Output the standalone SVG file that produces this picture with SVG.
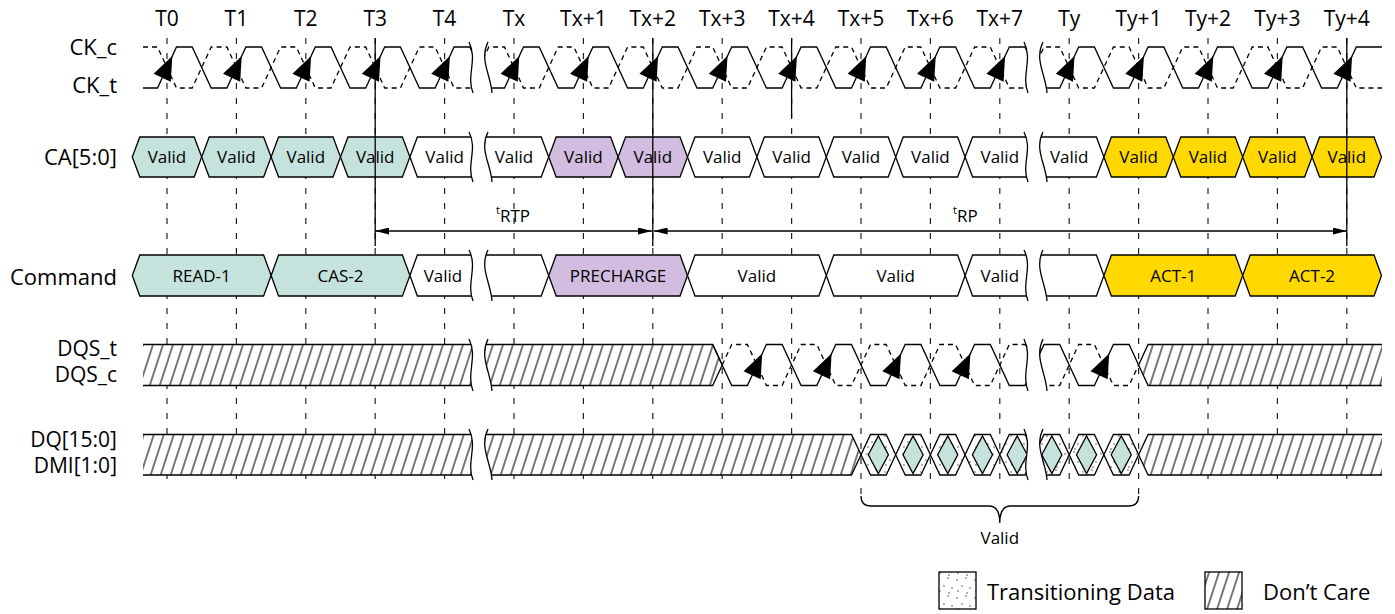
<svg xmlns="http://www.w3.org/2000/svg" width="1395" height="614" viewBox="0 0 1395 614">
<style>
.ln{stroke:#000;stroke-width:1.3;fill:none;stroke-linejoin:miter}
.dsh{stroke:#000;stroke-width:1.3;fill:none;stroke-dasharray:5 4}
.tick{stroke:#222;stroke-width:1.2;fill:none;stroke-dasharray:6 9}
.cell{stroke:#000;stroke-width:1.3}
.teal{fill:#c5e3dc}.purp{fill:#d2bde1}.yel{fill:#ffd800}.wht{fill:#fff}
.mask{fill:#fff;stroke:none}
.hat{fill:url(#hatch);stroke:none}
.t{font-family:"Open Sans","Noto Sans","DejaVu Sans",sans-serif;fill:#000}
.lab{font-size:22px;text-anchor:end}
.lab2{font-size:21px;text-anchor:end}
.tk{font-size:21px;text-anchor:middle}
.cv{font-size:17px;text-anchor:middle}
.ah{fill:#000}
</style>
<defs>
<pattern id="hatch" patternUnits="userSpaceOnUse" width="10" height="10" patternTransform="skewX(-18)">
<rect width="10" height="10" fill="#fff"/>
<line x1="5" y1="-1" x2="5" y2="11" stroke="#000" stroke-width="1.1"/>
</pattern>
<pattern id="dots" patternUnits="userSpaceOnUse" width="18" height="18">
<rect width="18" height="18" fill="#fff"/>
<circle cx="3" cy="4" r="1" fill="#999"/><circle cx="12" cy="2" r="1" fill="#999"/>
<circle cx="8" cy="10" r="1" fill="#999"/><circle cx="16" cy="12" r="1" fill="#999"/>
<circle cx="4" cy="15" r="1" fill="#999"/><circle cx="13" cy="17" r="1" fill="#999"/>
</pattern>
<path id="ah" d="M5.3,56 L3.8,81.8 L-13.4,73.8 Z"/>
<marker id="arr" viewBox="0 0 14 7" refX="14" refY="3.5" markerWidth="14" markerHeight="7" markerUnits="userSpaceOnUse" orient="auto-start-reverse">
<path d="M0,0 L14,3.5 L0,7 Z" fill="#000"/>
</marker>
</defs>
<rect width="1395" height="614" fill="#fff"/>

<g id="tick-labels" class="t tk">
<text x="167" y="26">T0</text><text x="236.4" y="26">T1</text><text x="305.8" y="26">T2</text><text x="375.2" y="26">T3</text><text x="444.6" y="26">T4</text>
<text x="514" y="26">Tx</text><text x="583.4" y="26">Tx+1</text><text x="652.8" y="26">Tx+2</text><text x="722.2" y="26">Tx+3</text><text x="791.6" y="26">Tx+4</text>
<text x="861" y="26">Tx+5</text><text x="930.4" y="26">Tx+6</text><text x="999.8" y="26">Tx+7</text><text x="1069.2" y="26">Ty</text><text x="1138.6" y="26">Ty+1</text>
<text x="1208" y="26">Ty+2</text><text x="1277.4" y="26">Ty+3</text><text x="1346.8" y="26">Ty+4</text>
</g>

<g id="row-labels" class="t">
<text class="lab" x="117" y="55">CK_c</text><text class="lab" x="117" y="93">CK_t</text>
<text class="lab" x="117" y="165">CA[5:0]</text><text class="lab" x="117" y="285">Command</text>
<text class="lab2" x="117" y="356">DQS_t</text><text class="lab2" x="117" y="382">DQS_c</text>
<text class="lab2" x="117" y="447">DQ[15:0]</text><text class="lab2" x="117" y="473">DMI[1:0]</text>
</g>

<g id="ticks" class="tick">
<path d="M167,38V488M236.4,38V488M305.8,38V488M375.2,38V488M444.6,38V488M514,38V488M583.4,38V488M652.8,38V488M722.2,38V488M791.6,38V488M861,38V496M930.4,38V488M999.8,38V488M1069.2,38V488M1138.6,38V496M1208,38V488M1277.4,38V488M1346.8,38V488"/>
</g>

<g id="clock">
<path class="ln" d="M143,88 H157.5 L176.5,47 H192.2 L211.2,88 H226.9 L245.9,47 H261.6 L280.6,88 H296.3 L315.3,47 H331 L350,88 H365.7 L384.7,47 H400.4 L419.4,88 H435.1 L454.1,47 H469.8 L488.8,88 H504.5 L523.5,47 H539.2 L558.2,88 H573.9 L592.9,47 H608.6 L627.6,88 H643.3 L662.3,47 H678 L697,88 H712.7 L731.7,47 H747.4 L766.4,88 H782.1 L801.1,47 H816.8 L835.8,88 H851.5 L870.5,47 H886.2 L905.2,88 H920.9 L939.9,47 H955.6 L974.6,88 H990.3 L1009.3,47 H1025 L1044,88 H1059.7 L1078.7,47 H1094.4 L1113.4,88 H1129.1 L1148.1,47 H1163.8 L1182.8,88 H1198.5 L1217.5,47 H1233.2 L1252.2,88 H1267.9 L1286.9,47 H1302.6 L1321.6,88 H1337.3 L1356.3,47 H1382"/>
<path class="dsh" d="M143,47 H157.5 L176.5,88 H192.2 L211.2,47 H226.9 L245.9,88 H261.6 L280.6,47 H296.3 L315.3,88 H331 L350,47 H365.7 L384.7,88 H400.4 L419.4,47 H435.1 L454.1,88 H469.8 L488.8,47 H504.5 L523.5,88 H539.2 L558.2,47 H573.9 L592.9,88 H608.6 L627.6,47 H643.3 L662.3,88 H678 L697,47 H712.7 L731.7,88 H747.4 L766.4,47 H782.1 L801.1,88 H816.8 L835.8,47 H851.5 L870.5,88 H886.2 L905.2,47 H920.9 L939.9,88 H955.6 L974.6,47 H990.3 L1009.3,88 H1025 L1044,47 H1059.7 L1078.7,88 H1094.4 L1113.4,47 H1129.1 L1148.1,88 H1163.8 L1182.8,47 H1198.5 L1217.5,88 H1233.2 L1252.2,47 H1267.9 L1286.9,88 H1302.6 L1321.6,47 H1337.3 L1356.3,88 H1382"/>
<g class="ah">
<use href="#ah" x="167"/><use href="#ah" x="236.4"/><use href="#ah" x="305.8"/><use href="#ah" x="375.2"/><use href="#ah" x="444.6"/>
<use href="#ah" x="514"/><use href="#ah" x="583.4"/><use href="#ah" x="652.8"/><use href="#ah" x="722.2"/><use href="#ah" x="791.6"/>
<use href="#ah" x="861"/><use href="#ah" x="930.4"/><use href="#ah" x="999.8"/><use href="#ah" x="1069.2"/><use href="#ah" x="1138.6"/>
<use href="#ah" x="1208"/><use href="#ah" x="1277.4"/><use href="#ah" x="1346.8"/>
</g>
</g>

<g id="ca-row">
<polygon class="cell teal" points="132.3,157 139.8,137 194.2,137 201.7,157 194.2,177 139.8,177"/>
<polygon class="cell teal" points="201.7,157 209.2,137 263.6,137 271.1,157 263.6,177 209.2,177"/>
<polygon class="cell teal" points="271.1,157 278.6,137 333,137 340.5,157 333,177 278.6,177"/>
<polygon class="cell teal" points="340.5,157 348,137 402.4,137 409.9,157 402.4,177 348,177"/>
<polygon class="cell wht" points="409.9,157 417.4,137 480,137 480,177 417.4,177"/>
<polygon class="cell wht" points="480,137 541.2,137 548.7,157 541.2,177 480,177"/>
<polygon class="cell purp" points="548.7,157 556.2,137 610.6,137 618.1,157 610.6,177 556.2,177"/>
<polygon class="cell purp" points="618.1,157 625.6,137 680,137 687.5,157 680,177 625.6,177"/>
<polygon class="cell wht" points="687.5,157 695,137 749.4,137 756.9,157 749.4,177 695,177"/>
<polygon class="cell wht" points="756.9,157 764.4,137 818.8,137 826.3,157 818.8,177 764.4,177"/>
<polygon class="cell wht" points="826.3,157 833.8,137 888.2,137 895.7,157 888.2,177 833.8,177"/>
<polygon class="cell wht" points="895.7,157 903.2,137 957.6,137 965.1,157 957.6,177 903.2,177"/>
<polygon class="cell wht" points="965.1,157 972.6,137 1035,137 1035,177 972.6,177"/>
<polygon class="cell wht" points="1035,137 1096.4,137 1103.9,157 1096.4,177 1035,177"/>
<polygon class="cell yel" points="1103.9,157 1111.4,137 1165.8,137 1173.3,157 1165.8,177 1111.4,177"/>
<polygon class="cell yel" points="1173.3,157 1180.8,137 1235.2,137 1242.7,157 1235.2,177 1180.8,177"/>
<polygon class="cell yel" points="1242.7,157 1250.2,137 1304.6,137 1312.1,157 1304.6,177 1250.2,177"/>
<polygon class="cell yel" points="1312.1,157 1319.6,137 1374,137 1381.5,157 1374,177 1319.6,177"/>
</g>

<g id="markers-vertical">
<path class="ln" d="M375.2,38V246M652.8,38V246M791.6,38V118M1346.8,38V246"/>
</g>

<g id="ca-text" class="t cv">
<text x="167" y="163">Valid</text><text x="236.4" y="163">Valid</text><text x="305.8" y="163">Valid</text><text x="375.2" y="163">Valid</text><text x="444.6" y="163">Valid</text>
<text x="514" y="163">Valid</text><text x="583.4" y="163">Valid</text><text x="652.8" y="163">Valid</text><text x="722.2" y="163">Valid</text><text x="791.6" y="163">Valid</text>
<text x="861" y="163">Valid</text><text x="930.4" y="163">Valid</text><text x="999.8" y="163">Valid</text><text x="1069.2" y="163">Valid</text><text x="1138.6" y="163">Valid</text>
<text x="1208" y="163">Valid</text><text x="1277.4" y="163">Valid</text><text x="1346.8" y="163">Valid</text>
</g>

<g id="timing-tRTP">
<line class="ln" x1="375.2" y1="231" x2="652" y2="231" marker-start="url(#arr)" marker-end="url(#arr)"/>
<text class="t" x="496" y="222" font-size="17"><tspan font-size="11" dy="-8">t</tspan><tspan dy="8">RTP</tspan></text>
</g>
<g id="timing-tRP">
<line class="ln" x1="653.6" y1="231" x2="1346.8" y2="231" marker-start="url(#arr)" marker-end="url(#arr)"/>
<text class="t" x="953" y="222" font-size="17"><tspan font-size="11" dy="-8">t</tspan><tspan dy="8">RP</tspan></text>
</g>

<g id="command-row">
<polygon class="cell teal" points="132.3,275.5 139.8,255 263.6,255 271.1,275.5 263.6,296 139.8,296"/>
<polygon class="cell teal" points="271.1,275.5 278.6,255 402.4,255 409.9,275.5 402.4,296 278.6,296"/>
<polygon class="cell wht" points="409.9,275.5 417.4,255 480,255 480,296 417.4,296"/>
<polygon class="cell wht" points="480,255 541.2,255 548.7,275.5 541.2,296 480,296"/>
<polygon class="cell purp" points="548.7,275.5 556.2,255 680,255 687.5,275.5 680,296 556.2,296"/>
<polygon class="cell wht" points="687.5,275.5 695,255 818.8,255 826.3,275.5 818.8,296 695,296"/>
<polygon class="cell wht" points="826.3,275.5 833.8,255 957.6,255 965.1,275.5 957.6,296 833.8,296"/>
<polygon class="cell wht" points="965.1,275.5 972.6,255 1035,255 1035,296 972.6,296"/>
<polygon class="cell wht" points="1035,255 1096.4,255 1103.9,275.5 1096.4,296 1035,296"/>
<polygon class="cell yel" points="1103.9,275.5 1111.4,255 1235.2,255 1242.7,275.5 1235.2,296 1111.4,296"/>
<polygon class="cell yel" points="1242.7,275.5 1250.2,255 1374,255 1381.5,275.5 1374,296 1250.2,296"/>
</g>

<g id="dqs-row">
<path class="hat" d="M143,344.5 H712.7 L722.2,365 L712.7,385.5 H143 Z"/>
<path class="ln" d="M143,344.5 H712.7 L722.2,365 L712.7,385.5 H143"/>
<path class="hat" d="M1382,344.5 H1148.1 L1138.6,365 L1148.1,385.5 H1382 Z"/>
<path class="ln" d="M1382,344.5 H1148.1 L1138.6,365 L1148.1,385.5 H1382"/>
<path class="ln" d="M712.7,344.5 L731.7,385.5 H747.4 L766.4,344.5 H782.1 L801.1,385.5 H816.8 L835.8,344.5 H851.5 L870.5,385.5 H886.2 L905.2,344.5 H920.9 L939.9,385.5 H955.6 L974.6,344.5 H990.3 L1009.3,385.5 H1025 L1044,344.5 H1059.7 L1078.7,385.5 H1094.4 L1113.4,344.5 H1129.1 L1138.6,365"/>
<path class="dsh" d="M722.2,365 L731.7,344.5 H747.4 L766.4,385.5 H782.1 L801.1,344.5 H816.8 L835.8,385.5 H851.5 L870.5,344.5 H886.2 L905.2,385.5 H920.9 L939.9,344.5 H955.6 L974.6,385.5 H990.3 L1009.3,344.5 H1025 L1044,385.5 H1059.7 L1078.7,344.5 H1094.4 L1113.4,385.5 H1129.1 L1138.6,365"/>
<g class="ah">
<use href="#ah" x="756.9" y="297.5"/><use href="#ah" x="826.3" y="297.5"/><use href="#ah" x="895.7" y="297.5"/><use href="#ah" x="965.1" y="297.5"/><use href="#ah" x="1103.9" y="297.5"/>
</g>
</g>

<g id="dq-row">
<path class="hat" d="M143,434.5 H851.5 L861,454.75 L851.5,475 H143 Z"/>
<path class="ln" d="M143,434.5 H851.5 L861,454.75 L851.5,475 H143"/>
<path class="hat" d="M1382,434.5 H1148.1 L1138.6,454.75 L1148.1,475 H1382 Z"/>
<path class="ln" d="M1382,434.5 H1148.1 L1138.6,454.75 L1148.1,475 H1382"/>
<g class="cell" fill="url(#dots)">
<polygon points="861,454.75 870.5,434.5 886.2,434.5 895.7,454.75 886.2,475 870.5,475"/>
<polygon points="895.7,454.75 905.2,434.5 920.9,434.5 930.4,454.75 920.9,475 905.2,475"/>
<polygon points="930.4,454.75 939.9,434.5 955.6,434.5 965.1,454.75 955.6,475 939.9,475"/>
<polygon points="965.1,454.75 974.6,434.5 990.3,434.5 999.8,454.75 990.3,475 974.6,475"/>
<polygon points="999.8,454.75 1009.3,434.5 1025,434.5 1034.5,454.75 1025,475 1009.3,475"/>
<polygon points="1034.5,454.75 1044,434.5 1059.7,434.5 1069.2,454.75 1059.7,475 1044,475"/>
<polygon points="1069.2,454.75 1078.7,434.5 1094.4,434.5 1103.9,454.75 1094.4,475 1078.7,475"/>
<polygon points="1103.9,454.75 1113.4,434.5 1129.1,434.5 1138.6,454.75 1129.1,475 1113.4,475"/>
</g>
<g class="cell teal">
<polygon points="868.3,454.75 878.35,436 888.4,454.75 878.35,473.5"/>
<polygon points="903,454.75 913.05,436 923.1,454.75 913.05,473.5"/>
<polygon points="937.7,454.75 947.75,436 957.8,454.75 947.75,473.5"/>
<polygon points="972.4,454.75 982.45,436 992.5,454.75 982.45,473.5"/>
<polygon points="1007.1,454.75 1017.15,436 1027.2,454.75 1017.15,473.5"/>
<polygon points="1041.8,454.75 1051.85,436 1061.9,454.75 1051.85,473.5"/>
<polygon points="1076.5,454.75 1086.55,436 1096.6,454.75 1086.55,473.5"/>
<polygon points="1111.2,454.75 1121.25,436 1131.3,454.75 1121.25,473.5"/>
</g>
</g>

<g id="breaks">
<path class="mask" d="M469,42 C478,59.9 466,75.2 473,93 L492,93 C491,75.2 479,59.9 488,42 Z"/>
<path class="mask" d="M469,132 C478,149.5 466,164.5 473,182 L492,182 C491,164.5 479,149.5 488,132 Z"/>
<path class="mask" d="M469,250 C478,267.9 466,283.2 473,301 L492,301 C491,283.2 479,267.9 488,250 Z"/>
<path class="mask" d="M469,339 C478,357.2 466,372.8 473,391 L492,391 C491,372.8 479,357.2 488,339 Z"/>
<path class="mask" d="M469,429 C478,446.9 466,462.2 473,480 L492,480 C491,462.2 479,446.9 488,429 Z"/>
<path class="mask" d="M1024,42 C1033,59.9 1021,75.2 1028,93 L1047,93 C1046,75.2 1034,59.9 1043,42 Z"/>
<path class="mask" d="M1024,132 C1033,149.5 1021,164.5 1028,182 L1047,182 C1046,164.5 1034,149.5 1043,132 Z"/>
<path class="mask" d="M1024,250 C1033,267.9 1021,283.2 1028,301 L1047,301 C1046,283.2 1034,267.9 1043,250 Z"/>
<path class="mask" d="M1024,339 C1033,357.2 1021,372.8 1028,391 L1047,391 C1046,372.8 1034,357.2 1043,339 Z"/>
<path class="mask" d="M1024,429 C1033,446.9 1021,462.2 1028,480 L1047,480 C1046,462.2 1034,446.9 1043,429 Z"/>
<path class="ln" d="M469,42 C478,59.9 466,75.2 473,93 M488,42 C479,59.9 491,75.2 492,93
M469,132 C478,149.5 466,164.5 473,182 M488,132 C479,149.5 491,164.5 492,182
M469,250 C478,267.9 466,283.2 473,301 M488,250 C479,267.9 491,283.2 492,301
M469,339 C478,357.2 466,372.8 473,391 M488,339 C479,357.2 491,372.8 492,391
M469,429 C478,446.9 466,462.2 473,480 M488,429 C479,446.9 491,462.2 492,480
M1024,42 C1033,59.9 1021,75.2 1028,93 M1043,42 C1034,59.9 1046,75.2 1047,93
M1024,132 C1033,149.5 1021,164.5 1028,182 M1043,132 C1034,149.5 1046,164.5 1047,182
M1024,250 C1033,267.9 1021,283.2 1028,301 M1043,250 C1034,267.9 1046,283.2 1047,301
M1024,339 C1033,357.2 1021,372.8 1028,391 M1043,339 C1034,357.2 1046,372.8 1047,391
M1024,429 C1033,446.9 1021,462.2 1028,480 M1043,429 C1034,446.9 1046,462.2 1047,480"/>
</g>

<g id="command-text" class="t cv">
<text x="201.7" y="282">READ-1</text><text x="340.5" y="282">CAS-2</text><text x="443" y="282">Valid</text>
<text x="618.1" y="282">PRECHARGE</text><text x="756.9" y="282">Valid</text><text x="895.7" y="282">Valid</text>
<text x="999.8" y="282">Valid</text><text x="1173.3" y="282">ACT-1</text><text x="1312.1" y="282">ACT-2</text>
</g>

<g id="valid-brace">
<path class="ln" d="M861,496 C861,503 864,506 871,506 L989,506 C995,506 999.8,510 999.8,523 C999.8,510 1004.6,506 1010.6,506 L1128.6,506 C1135.6,506 1138.6,503 1138.6,496"/>
<text class="t cv" x="999.8" y="544">Valid</text>
</g>

<g id="legend">
<rect x="939" y="572" width="37" height="37" fill="url(#dots)" stroke="#000" stroke-width="1.3"/>
<text class="t" x="987" y="600" font-size="22">Transitioning Data</text>
<rect x="1205" y="572" width="37" height="37" fill="url(#hatch)" stroke="#000" stroke-width="1.3"/>
<text class="t" x="1263" y="600" font-size="22">Don’t Care</text>
</g>
</svg>
